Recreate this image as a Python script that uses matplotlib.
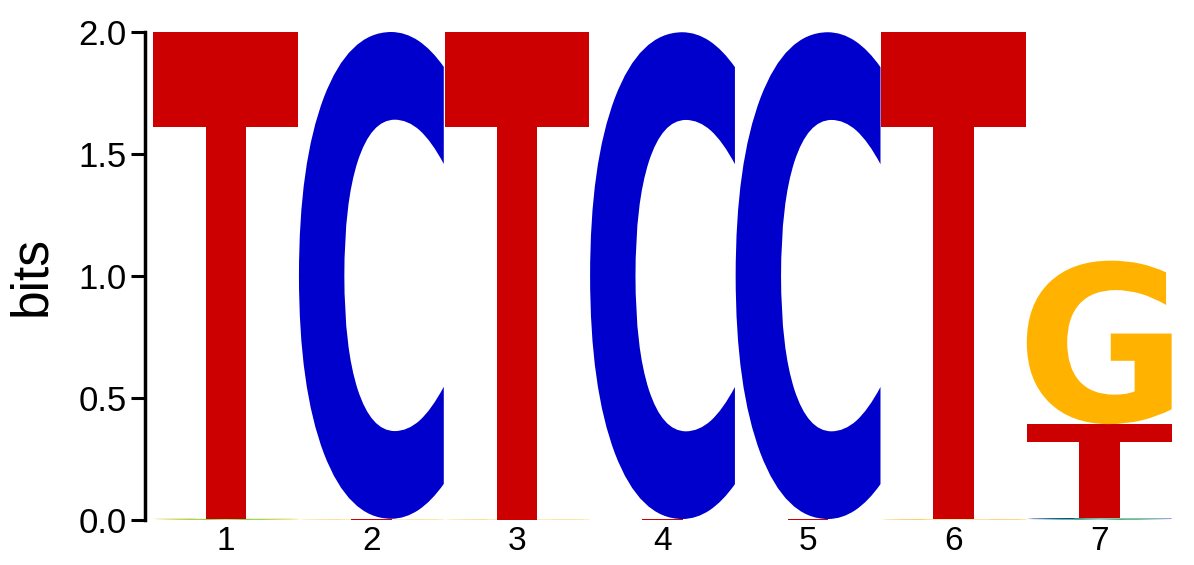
import numpy as np
import matplotlib
matplotlib.use("Agg")
import matplotlib.pyplot as plt
from matplotlib.textpath import TextPath
from matplotlib.patches import PathPatch
from matplotlib.font_manager import FontProperties
from matplotlib.transforms import Affine2D

# information content (bits) per letter and position
positions = [1, 2, 3, 4, 5, 6, 7]
letters = ['A', 'C', 'G', 'T']
A = [0.003, 0.0, 0.0, 0.0, 0.0, 0.0, 0.004]
C = [0.0, 1.995, 0.0, 1.995, 1.995, 0.0, 0.004]
G = [0.003, 0.002, 0.002, 0.0, 0.0, 0.003, 0.67]
T = [1.994, 0.003, 1.998, 0.004, 0.004, 1.997, 0.385]
colors = {'A': '#00CC00', 'C': '#0000CC', 'G': '#FFB300', 'T': '#CC0000'}

fp = FontProperties(family='DejaVu Sans', weight='bold')


def draw_letter(ax, ch, x, y, w, h, color):
    tp = TextPath((0, 0), ch, size=1, prop=fp)
    bb = tp.get_extents()
    tr = Affine2D().translate(-bb.x0, -bb.y0).scale(w / bb.width, h / bb.height).translate(x - w / 2, y)
    ax.add_patch(PathPatch(tr.transform_path(tp), fc=color, ec='none', lw=0))


fig = plt.figure(figsize=(11.94, 5.65), dpi=100)
ax = fig.add_axes([145 / 1194, 45 / 565, (1172 - 145) / 1194, (520 - 32) / 565])

heights = {'A': A, 'C': C, 'G': G, 'T': T}
for i, p in enumerate(positions):
    col = sorted([(heights[l][i], l) for l in letters])
    y0 = 0.0
    for h, l in col:
        if h > 0:
            draw_letter(ax, l, p, y0, 0.995, h, colors[l])
            y0 += h

ax.set_xlim(0.445, 7.5)
ax.set_ylim(0, 2.0)
ax.set_xticks(positions)
ax.set_xticklabels([str(p) for p in positions], fontsize=24, family='Liberation Sans')
ax.set_yticks([0, 0.5, 1.0, 1.5, 2.0])
ax.set_yticklabels(['0.0', '0.5', '1.0', '1.5', '2.0'], fontsize=25, family='Liberation Sans')
ax.tick_params(axis='x', length=0, pad=4)
ax.tick_params(axis='y', length=10, width=2.2, pad=3)
ax.set_ylabel('bits', fontsize=37, family='Liberation Sans', labelpad=16)
for s in ['top', 'right', 'bottom']:
    ax.spines[s].set_visible(False)
ax.spines['left'].set_linewidth(2.5)

fig.savefig('out.png', dpi=100)
